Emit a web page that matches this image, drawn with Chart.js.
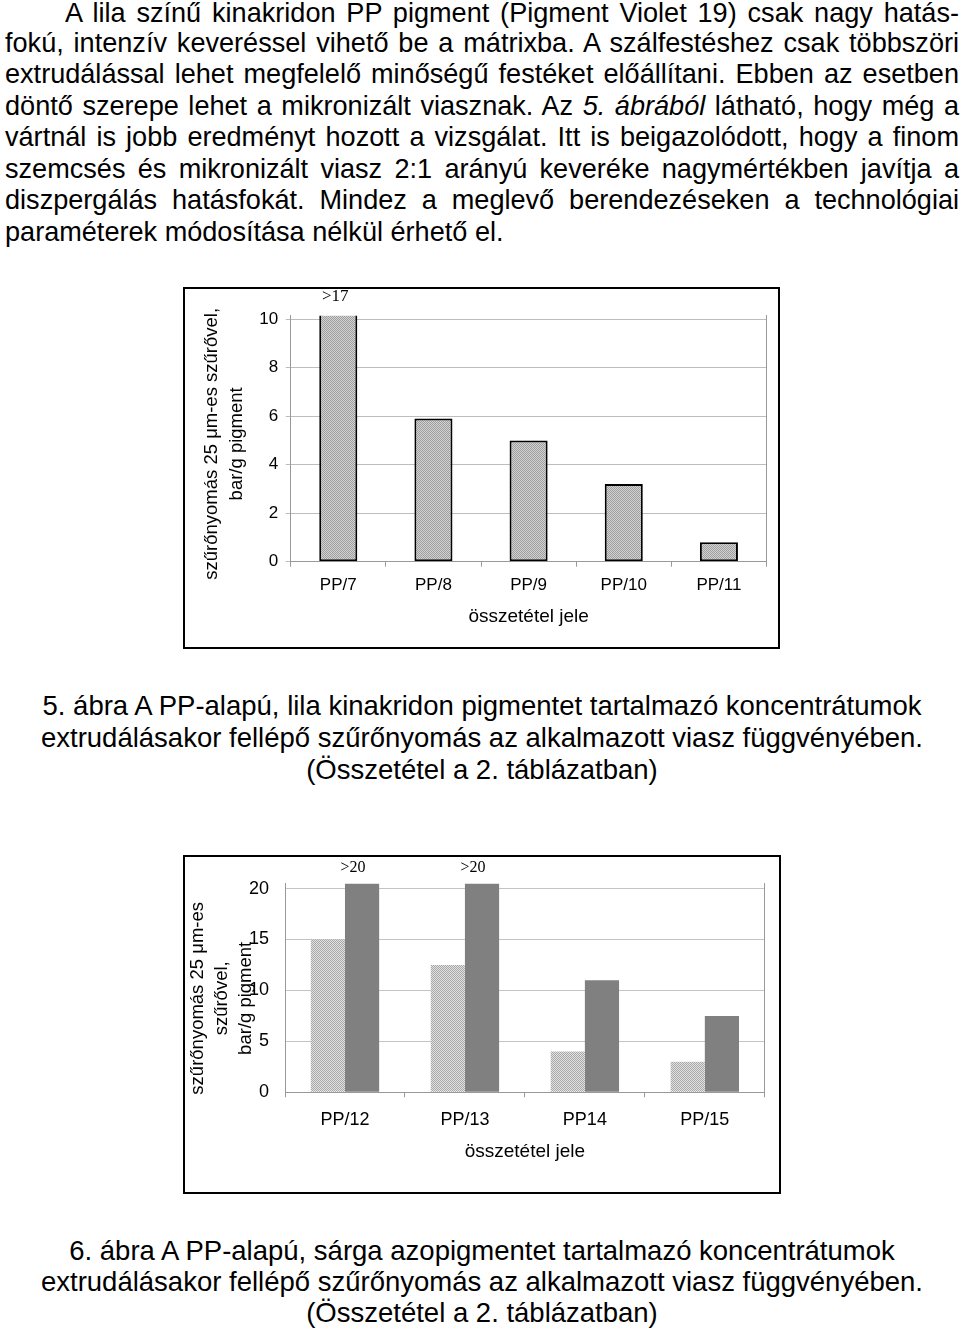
<!DOCTYPE html>
<html lang="hu">
<head>
<meta charset="utf-8">
<script src="https://cdn.jsdelivr.net/npm/chart.js@4.4.1/dist/chart.umd.min.js"></script>
<style>
html,body{margin:0;padding:0;background:#fff;}
body{width:960px;height:1329px;position:relative;overflow:hidden;font-family:"Liberation Sans",Arial,sans-serif;color:#000;}
.line{position:absolute;left:5px;width:954px;font-size:27.1px;height:31.4px;line-height:31.4px;text-align:justify;text-align-last:justify;}
.line.first{padding-left:60px;width:894px;}
.line.last{text-align-last:left;}
.caption{position:absolute;left:0;width:964px;text-align:center;font-size:27.5px;line-height:32px;}
.box{position:absolute;border:2px solid #000;box-sizing:border-box;}
.box > div{position:relative;width:100%;height:100%;}
</style>
</head>
<body>

<div class="line first" style="top:-2.8px">A lila színű kinakridon PP pigment (Pigment Violet 19) csak nagy hatás-</div>
<div class="line" style="top:26.9px">fokú, intenzív keveréssel vihető be a mátrixba. A szálfestéshez csak többszöri</div>
<div class="line" style="top:58.4px">extrudálással lehet megfelelő minőségű festéket előállítani. Ebben az esetben</div>
<div class="line" style="top:89.9px">döntő szerepe lehet a mikronizált viasznak. Az <i>5. ábrából</i> látható, hogy még a</div>
<div class="line" style="top:121.4px">vártnál is jobb eredményt hozott a vizsgálat. Itt is beigazolódott, hogy a finom</div>
<div class="line" style="top:152.9px">szemcsés és mikronizált viasz 2:1 arányú keveréke nagymértékben javítja a</div>
<div class="line" style="top:184.4px">diszpergálás hatásfokát. Mindez a meglevő berendezéseken a technológiai</div>
<div class="line last" style="top:215.9px">paraméterek módosítása nélkül érhető el.</div>

<div class="box" style="left:183px;top:287px;width:597px;height:362px"><div><canvas id="chart1"></canvas></div></div>

<div class="caption" style="top:690.3px">5. ábra A PP-alapú, lila kinakridon pigmentet tartalmazó koncentrátumok<br>extrudálásakor fellépő szűrőnyomás az alkalmazott viasz függvényében.<br>(Összetétel a 2. táblázatban)</div>

<div class="box" style="left:183px;top:855px;width:598px;height:339px"><div><canvas id="chart2"></canvas></div></div>

<div class="caption" style="top:1235.2px;line-height:31px">6. ábra A PP-alapú, sárga azopigmentet tartalmazó koncentrátumok<br>extrudálásakor fellépő szűrőnyomás az alkalmazott viasz függvényében.<br>(Összetétel a 2. táblázatban)</div>

<script>
// ---- 5. ábra data ----
const chart1Labels = ["PP/7", "PP/8", "PP/9", "PP/10", "PP/11"];
const chart1Values = [17, 5.9, 5.0, 3.2, 0.8];      // PP/7 runs off the scale (>17)
const chart1Notes  = [">17", "", "", "", ""];
const chart1Ticks  = [0, 2, 4, 6, 8, 10];

// ---- 6. ábra data ----
const chart2Labels = ["PP/12", "PP/13", "PP14", "PP/15"];
const chart2Light  = [15, 12.5, 4.0, 3.0];
const chart2Dark   = [21, 21, 11.0, 7.5];           // first two are >20
const chart2Notes  = [">20", ">20", "", ""];
const chart2Ticks  = [0, 5, 10, 15, 20];

const SANS = '"Liberation Sans", Arial, sans-serif';
const SERIF = '"Liberation Serif", "Times New Roman", serif';

// fine checker fill, like the halftone in the scan
function dots(a, b){
    const c = document.createElement("canvas");
    c.width = 2; c.height = 2;
    const g = c.getContext("2d");
    g.fillStyle = a; g.fillRect(0, 0, 2, 2);
    g.fillStyle = b; g.fillRect(0, 0, 1, 1); g.fillRect(1, 1, 1, 1);
    return g.createPattern(c, "repeat");
}

// ">17" / ">20" notes above clipped bars
const noteLabels = {
    id: "noteLabels",
    afterDatasetsDraw(chart, args, opts){
        const meta = chart.getDatasetMeta(opts.dataset);
        const ctx = chart.ctx;
        ctx.save();
        ctx.font = opts.font;
        ctx.fillStyle = "#000";
        ctx.textAlign = "center";
        ctx.textBaseline = "middle";
        opts.notes.forEach((t, i) => {
            if(!t) return;
            ctx.fillText(t, meta.data[i].x + opts.dx, chart.chartArea.top - opts.dy);
        });
        ctx.restore();
    }
};

/* ===========================
   5. ÁBRA
=========================== */
new Chart(document.getElementById("chart1"), {
    type: "bar",
    data: {
        labels: chart1Labels,
        datasets: [{
            data: chart1Values,
            backgroundColor: dots("#d2d2d2", "#9e9e9e"),
            borderColor: "#000",
            borderWidth: 2,
            borderSkipped: false,
            barPercentage: 0.4,
            categoryPercentage: 1,
            clip: 0
        }]
    },
    plugins: [noteLabels],
    options: {
        responsive: true,
        maintainAspectRatio: false,
        animation: false,
        layout: { padding: { left: 0, top: 26.7, right: 11.5, bottom: 0 } },
        plugins: {
            legend: { display: false },
            tooltip: { enabled: false },
            noteLabels: { dataset: 0, notes: chart1Notes, dx: -3, dy: 19, font: "17px " + SERIF }
        },
        scales: {
            x: {
                offset: true,
                grid: { offset: true, drawOnChartArea: false, drawTicks: true, tickLength: 5, color: "#999" },
                border: { color: "#999" },
                ticks: { color: "#000", font: { family: SANS, size: 17 }, padding: 8 },
                title: { display: true, text: "összetétel jele", color: "#000", font: { family: SANS, size: 19 }, padding: { top: 0, bottom: 19 } },
                afterFit(s){ s.height = 85.3; }
            },
            y: {
                min: 0,
                max: 10.14,
                grid: { color: "#bdbdbd", drawTicks: true, tickLength: 5 },
                border: { color: "#999" },
                ticks: { color: "#000", font: { family: SANS, size: 17 }, padding: 7.5 },
                afterBuildTicks(s){ s.ticks = chart1Ticks.map(v => ({ value: v })); },
                title: {
                    display: true,
                    text: ["szűrőnyomás 25 μm-es szűrővel,  ", "bar/g pigment  "],
                    color: "#000",
                    font: { family: SANS, size: 18.5, lineHeight: 1.35 },
                    padding: { top: 14.5, bottom: 0 }
                },
                afterFit(s){ s.width = 105.7; }
            },
            y2: {
                position: "right",
                grid: { display: false },
                ticks: { display: false },
                border: { display: true, color: "#999" },
                afterFit(s){ s.width = 0; }
            }
        }
    }
});

/* ===========================
   6. ÁBRA
=========================== */
new Chart(document.getElementById("chart2"), {
    type: "bar",
    data: {
        labels: chart2Labels,
        datasets: [
            {
                data: chart2Light,
                backgroundColor: dots("#e2e2e2", "#a8a8a8"),
                borderWidth: 0,
                barPercentage: 1,
                categoryPercentage: 0.57,
                clip: 0
            },
            {
                data: chart2Dark,
                backgroundColor: "#808080",
                borderWidth: 0,
                barPercentage: 1,
                categoryPercentage: 0.57,
                clip: 0
            }
        ]
    },
    plugins: [noteLabels],
    options: {
        responsive: true,
        maintainAspectRatio: false,
        animation: false,
        layout: { padding: { left: 0, top: 25.7, right: 14.2, bottom: 0 } },
        plugins: {
            legend: { display: false },
            tooltip: { enabled: false },
            noteLabels: { dataset: 1, notes: chart2Notes, dx: -9, dy: 16, font: "16px " + SERIF }
        },
        scales: {
            x: {
                offset: true,
                grid: { offset: true, drawOnChartArea: false, drawTicks: true, tickLength: 5, color: "#999" },
                border: { color: "#999" },
                ticks: { color: "#000", font: { family: SANS, size: 18 }, padding: 12 },
                title: { display: true, text: "összetétel jele", color: "#000", font: { family: SANS, size: 19 }, padding: { top: 0, bottom: 28.9 } },
                afterFit(s){ s.height = 99.7; }
            },
            y: {
                min: 0,
                max: 20.47,
                grid: { color: "#c4c4c4", drawTicks: false },
                border: { color: "#999" },
                ticks: { color: "#000", font: { family: SANS, size: 18 }, padding: 16 },
                afterBuildTicks(s){ s.ticks = chart2Ticks.map(v => ({ value: v })); },
                title: {
                    display: true,
                    text: ["szűrőnyomás 25 μm-es    ", "szűrővel,    ", "bar/g pigment    "],
                    color: "#000",
                    font: { family: SANS, size: 18.5, lineHeight: 1.3 },
                    padding: { top: 1, bottom: 0 }
                },
                afterFit(s){ s.width = 100; }
            },
            y2: {
                position: "right",
                grid: { display: false },
                ticks: { display: false },
                border: { display: true, color: "#999" },
                afterFit(s){ s.width = 0; }
            }
        }
    }
});
</script>
</body>
</html>
